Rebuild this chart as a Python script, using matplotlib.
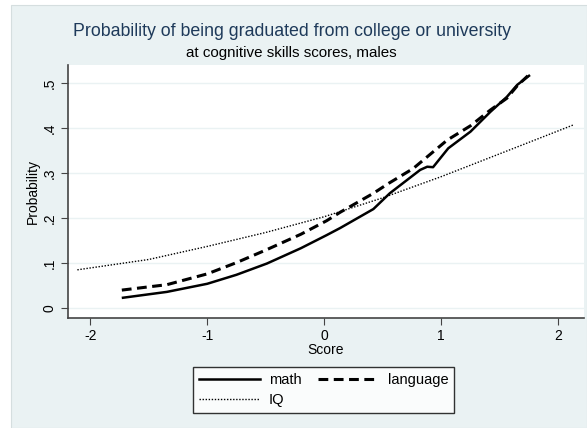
import matplotlib.pyplot as plt

# values
math_x = [-1.72, -1.345, -1.0, -0.75, -0.49, -0.2, 0.02, 0.137, 0.42, 0.56, 0.7,
          0.82, 0.88, 0.93, 1.06, 1.25, 1.42, 1.56, 1.65, 1.75]
math_y = [0.023, 0.036, 0.054, 0.074, 0.099, 0.133, 0.162, 0.178, 0.22, 0.255, 0.283,
          0.307, 0.314, 0.313, 0.355, 0.392, 0.436, 0.469, 0.496, 0.516]

lang_x = [-1.73, -1.345, -1.0, -0.75, -0.49, -0.2, 0.02, 0.137, 0.42, 0.55, 0.76,
          1.05, 1.25, 1.42, 1.56, 1.65, 1.74]
lang_y = [0.04, 0.052, 0.076, 0.101, 0.13, 0.164, 0.194, 0.213, 0.255, 0.277, 0.31,
          0.373, 0.405, 0.44, 0.466, 0.494, 0.516]

iq_x = [-2.11, -1.5, -1.0, -0.5, 0.0, 0.5, 1.0, 1.62, 2.13]
iq_y = [0.085, 0.108, 0.137, 0.168, 0.203, 0.245, 0.292, 0.355, 0.407]

xticks = [-2, -1, 0, 1, 2]
yticks = [0, 0.1, 0.2, 0.3, 0.4, 0.5]
ytick_labels = ["0", ".1", ".2", ".3", ".4", ".5"]

plt.rcParams['font.family'] = ['Liberation Sans', 'DejaVu Sans']

W, H = 587, 428
fig = plt.figure(figsize=(W / 100, H / 100), dpi=100)
fig.patch.set_facecolor('white')
# stata style background panel
bg = plt.Rectangle((11 / W, 0), 1 - 11 / W, 1 - 5 / H, transform=fig.transFigure,
                   facecolor='#EAF2F3', edgecolor='#D5DEDF', linewidth=0.8, zorder=-1)
fig.patches.append(bg)

ax = fig.add_axes([68 / W, 1 - 318 / H, (584 - 68) / W, (318 - 65) / H])
ax.set_zorder(1)
ax.set_facecolor('white')

ax.plot(iq_x, iq_y, color='black', linewidth=1.0, linestyle=(0, (1, 1.2)), label='IQ')
ax.plot(lang_x, lang_y, color='black', linewidth=2.2, linestyle=(0, (3.2, 1.8)), label='language')
ax.plot(math_x, math_y, color='black', linewidth=1.8, label='math')

ax.set_xlim(-2.19, 2.22)
ax.set_ylim(-0.022, 0.54)
ax.set_xticks(xticks)
ax.set_xticklabels([str(t) for t in xticks])
ax.set_yticks(yticks)
ax.set_yticklabels(ytick_labels, rotation=90, va='center')
ax.grid(axis='y', color='#EAF2F3', linewidth=1.0)
ax.set_axisbelow(True)

for s in ['top', 'right']:
    ax.spines[s].set_visible(False)
for s in ['left', 'bottom']:
    ax.spines[s].set_color('#444444')
    ax.spines[s].set_linewidth(1.2)
ax.tick_params(direction='out', length=5, width=0.8, color='#444444', labelsize=10, pad=3)

ax.set_xlabel("Score", fontsize=10, labelpad=0)
ax.set_ylabel("Probability", fontsize=10, labelpad=2)

fig.text(0.497, 1 - 31 / H, "Probability of being graduated from college or university",
         ha='center', va='center', fontsize=12.8, color='#1E3A5A')
fig.text(0.497, 1 - 53 / H, "at cognitive skills scores, males",
         ha='center', va='center', fontsize=10.9, color='black')

# legend ordered like the reference: math, language / IQ
h, l = ax.get_legend_handles_labels()
order = [2, 0, 1]
leg = fig.legend([h[i] for i in order], [l[i] for i in order], ncol=2,
                 loc='center', bbox_to_anchor=(323.5 / W, 1 - 390 / H),
                 frameon=True, fancybox=False, edgecolor='black', fontsize=10.5,
                 handlelength=4.2, columnspacing=1.1, handletextpad=0.6,
                 borderpad=0.4, labelspacing=0.4)
leg.get_frame().set_linewidth(1.0)

fig.savefig("out.png", dpi=100)
